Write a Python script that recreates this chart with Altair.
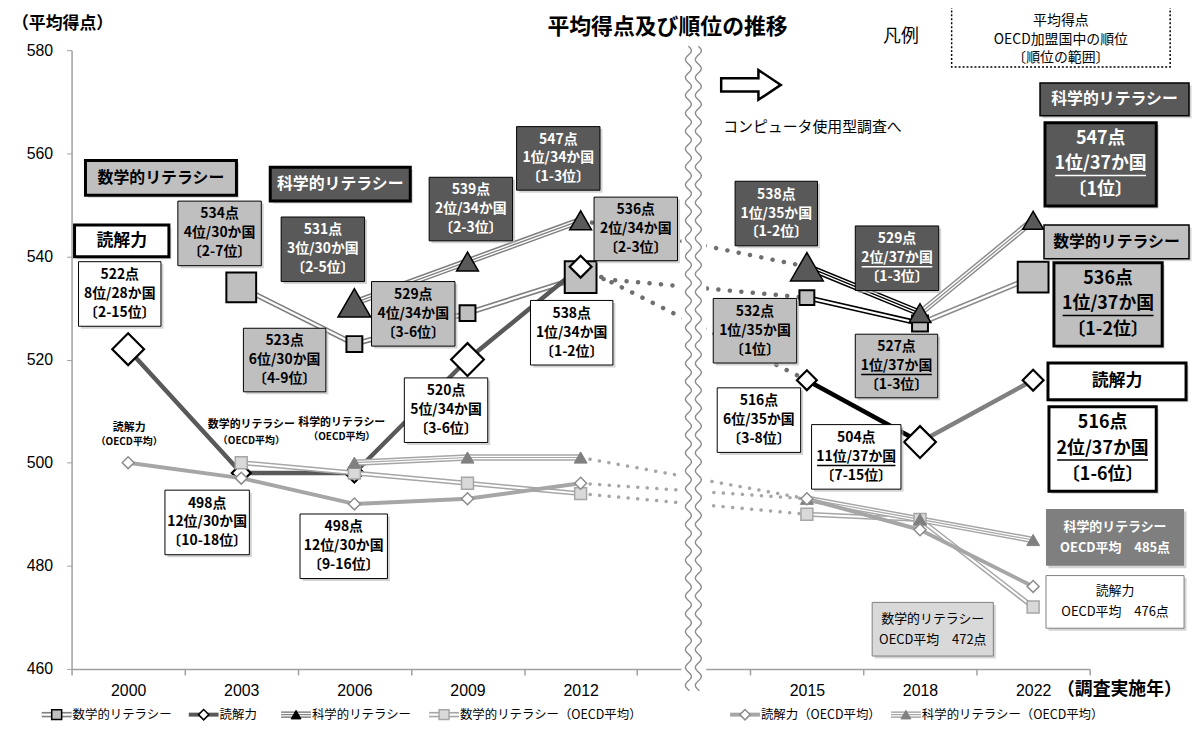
import altair as alt
import numpy as np
import pandas as pd

# ---------------- data ----------------
years = ["2000", "2003", "2006", "2009", "2012", "2015", "2018", "2022"]
gap = " "
x_domain = years[:5] + [gap] + years[5:]

math_jp = [None, 534, 523, 529, 536, 532, 527, 536]
read_jp = [522, 498, 498, 520, 538, 516, 504, 516]
sci_jp = [None, None, 531, 539, 547, 538, 529, 547]
math_oecd = [None, 500, 498, 496, 494, 490, 489, 472]
read_oecd = [500, 497, 492, 493, 496, 493, 487, 476]
sci_oecd = [None, None, 500, 501, 501, 493, 489, 485]

math_rank = [None, "4位/30か国", "6位/30か国", "4位/34か国", "2位/34か国", "1位/35か国", "1位/37か国", "1位/37か国"]
math_range = [None, "〔2-7位〕", "〔4-9位〕", "〔3-6位〕", "〔2-3位〕", "〔1位〕", "〔1-3位〕", "〔1-2位〕"]
read_rank = ["8位/28か国", "12位/30か国", "12位/30か国", "5位/34か国", "1位/34か国", "6位/35か国", "11位/37か国", "2位/37か国"]
read_range = ["〔2-15位〕", "〔10-18位〕", "〔9-16位〕", "〔3-6位〕", "〔1-2位〕", "〔3-8位〕", "〔7-15位〕", "〔1-6位〕"]
sci_rank = [None, None, "3位/30か国", "2位/34か国", "1位/34か国", "1位/35か国", "2位/37か国", "1位/37か国"]
sci_range = [None, None, "〔2-5位〕", "〔2-3位〕", "〔1-3位〕", "〔1-2位〕", "〔1-3位〕", "〔1位〕"]

name_math = "数学的リテラシー"
name_read = "読解力"
name_sci = "科学的リテラシー"
oecd_tag = "（OECD平均）"
title_text = "平均得点及び順位の推移"
y_title = "（平均得点）"
x_title = "（調査実施年）"
legend_title = "凡例"
legend_lines = ["平均得点", "OECD加盟国中の順位", "〔順位の範囲〕"]
cbt_note = "コンピュータ使用型調査へ"

# ---------------- styles / layout ----------------
W, H = 1025, 623
LEFT, TOP = 72, 48
LIGHT, DARK = "#bfbfbf", "#595959"
JFONT = "Noto Sans CJK JP"

math_mw = [0, 30, 16, 16, 32, 15, 16, 31]
read_mw = [32, 19, 19, 33, 22, 20, 32, 21]
sci_mw = [0, 0, 33, 22, 22, 33, 22, 21]

xs = alt.Scale(type="band", domain=x_domain, paddingInner=0, paddingOuter=0)
ys = alt.Scale(domain=[460, 580], nice=False, zero=False)
xenc = alt.X("year:O", scale=xs, title=None,
             axis=alt.Axis(labelAngle=0, labelFontSize=16, labelFont="Liberation Sans", labelColor="#000",
                           domainColor="#a0a0a0", tickColor="#a0a0a0", domainWidth=1.5, tickWidth=1.5,
                           tickSize=6, tickBand="extent", labelPadding=8, grid=False))
yenc = alt.Y("value:Q", scale=ys, title=None,
             axis=alt.Axis(values=[460, 480, 500, 520, 540, 560, 580], labelFontSize=16,
                           labelFont="Liberation Sans", labelColor="#000", domainColor="#a0a0a0",
                           tickColor="#a0a0a0", domainWidth=1.5, tickSize=5, labelPadding=14, grid=False))

SEGS = {"a": [0, 1, 2, 3, 4], "b": [5, 6], "c": [6, 7]}


def line_df(vals, colors, segs=SEGS):
    rows = []
    for seg, idxs in segs.items():
        for i in idxs:
            if vals[i] is not None:
                rows.append(dict(year=years[i], value=vals[i], seg=seg, col=colors[seg], i=i))
    return pd.DataFrame(rows)


def line_layer(df, width, color=None):
    enc = dict(x=xenc, y=yenc, detail="seg:N", order="i:Q")
    enc["color"] = alt.Color("col:N", scale=None) if color is None else alt.value(color)
    return alt.Chart(df).mark_line(strokeWidth=width, strokeJoin="round").encode(**enc)


def marker_layer(vals, widths, shape, fill, stroke, sw):
    rows = [dict(year=years[i], value=v, size=(widths[i] if isinstance(widths, list) else widths) ** 2)
            for i, v in enumerate(vals) if v is not None]
    return alt.Chart(pd.DataFrame(rows)).mark_point(shape=shape, filled=True, opacity=1).encode(
        x=xenc, y=yenc, size=alt.Size("size:Q", scale=None),
        fill=alt.value(fill), stroke=alt.value(stroke), strokeWidth=alt.value(sw))


def dotted_df(series):
    rows = []
    for k, vals in enumerate(series):
        for i in (4, 5):
            rows.append(dict(year=years[i], value=vals[i], seg=str(k), i=i))
    return pd.DataFrame(rows)


layers = []

# Japan lines
jc_read = {"a": "#595959", "b": "#000000", "c": "#808080"}
jc_ms = {"a": "#7f7f7f", "b": "#000000", "c": "#8c8c8c"}
dm = line_df(math_jp, jc_ms)
ds = line_df(sci_jp, jc_ms)
dr = line_df(read_jp, jc_read)
layers += [line_layer(dm, 5.5), line_layer(dm, 2.2, "#ffffff"),
           line_layer(ds, 7), line_layer(ds, 4, "#ffffff"), line_layer(ds, 1.3),
           line_layer(dr, 4.5)]

# dotted connectors across the break
layers.append(alt.Chart(dotted_df([math_jp, read_jp, sci_jp])).mark_line(
    strokeWidth=4.5, strokeCap="round", strokeDash=[0.1, 11.5], color="#6f6f6f").encode(
    x=xenc, y=yenc, detail="seg:N", order="i:Q"))
layers.append(alt.Chart(dotted_df([math_oecd, read_oecd, sci_oecd])).mark_line(
    strokeWidth=3.5, strokeCap="round", strokeDash=[0.1, 9.5], color="#a6a6a6").encode(
    x=xenc, y=yenc, detail="seg:N", order="i:Q"))

# Japan markers
layers += [marker_layer(math_jp, math_mw, "square", LIGHT, "#000000", 2),
           marker_layer(sci_jp, sci_mw, "triangle-up", DARK, "#000000", 1.5),
           marker_layer(read_jp, read_mw, "diamond", "#ffffff", "#000000", 2.2)]

# OECD lines + markers
OSEGS = {"a": [0, 1, 2, 3, 4], "b": [5, 6, 7]}
oc = {"a": "#a6a6a6", "b": "#a6a6a6"}
om = line_df(math_oecd, oc, OSEGS)
os_ = line_df(sci_oecd, oc, OSEGS)
orr = line_df(read_oecd, oc, OSEGS)
layers += [line_layer(om, 5), line_layer(om, 2, "#ffffff"),
           line_layer(os_, 6.5), line_layer(os_, 3.6, "#ffffff"), line_layer(os_, 1.2),
           line_layer(orr, 4)]
layers += [marker_layer(math_oecd, 12, "square", "#d9d9d9", "#a6a6a6", 1.5),
           marker_layer(sci_oecd, 13, "triangle-up", "#808080", "#808080", 1),
           marker_layer(read_oecd, 12, "diamond", "#ffffff", "#8c8c8c", 1.5)]

# ---------------- break ----------------
brk = pd.DataFrame([dict(x0=686 - LEFT, x1=711 - LEFT, y0=44 - TOP, y1=694 - TOP)])
layers.append(alt.Chart(brk).mark_rect(color="#ffffff").encode(
    x=alt.X("x0:Q", scale=None, axis=None), x2="x1:Q",
    y=alt.Y("y0:Q", scale=None, axis=None), y2="y1:Q"))
wave_rows = []
for k, bx in enumerate([693, 703]):
    for j, yy in enumerate(np.arange(44, 694, 1.0)):
        wave_rows.append(dict(x=bx + 3 * np.sin(2 * np.pi * (yy - 44) / 18) - LEFT, y=yy - TOP, w=k, j=j))
layers.append(alt.Chart(pd.DataFrame(wave_rows)).mark_line(color="#8c8c8c", strokeWidth=1.4).encode(
    x=alt.X("x:Q", scale=None, axis=None), y=alt.Y("y:Q", scale=None, axis=None),
    detail="w:N", order="j:Q"))

# ---------------- annotations ----------------
boxes, texts, rules, pts = [], [], [], []


def tw(s, size):
    w = 0
    for ch in s:
        if ord(ch) > 0x2000:
            w += 1.0
        elif ch.isdigit():
            w += 0.56
        elif ch == "/":
            w += 0.4
        else:
            w += 0.6
    return w * size


def add_box(x0, y0, x1, y1, fill, stroke="#000000", sw=1.0, shadow=True):
    boxes.append(dict(x0=x0 - LEFT, y0=y0 - TOP, x1=x1 - LEFT, y1=y1 - TOP, fill=fill, stroke=stroke,
                      sw=sw, shadow=shadow))


def add_text(x, y, s, size, color="#000000", bold=True, align="center", underline=False):
    texts.append(dict(x=x - LEFT, y=y - TOP, t=s, size=size, color=color,
                      wt="bold" if bold else "normal", al=align))
    if underline:
        w = tw(s, size)
        rules.append(dict(x0=x - w / 2 - LEFT, x1=x + w / 2 - LEFT, y0=y + size * 0.62 - TOP,
                          y1=y + size * 0.62 - TOP, color=color, sw=1.5))


def label_box(box, lines, fill, tcolor, size, spacing, sw=1.0, underline_mid=False, bold=True, stroke="#000000"):
    x0, y0, x1, y1 = box
    add_box(x0, y0, x1, y1, fill, stroke, sw)
    cx, cy = (x0 + x1) / 2, (y0 + y1) / 2
    n = len(lines)
    for k, s in enumerate(lines):
        add_text(cx, cy + (k - (n - 1) / 2) * spacing, s, size, tcolor, bold,
                 underline=(underline_mid and k == 1))


series = {
    "math": (math_jp, math_rank, math_range, LIGHT, "#000000"),
    "read": (read_jp, read_rank, read_range, "#ffffff", "#000000"),
    "sci": (sci_jp, sci_rank, sci_range, DARK, "#ffffff"),
}
small_boxes = {
    ("read", "2000"): (79, 261, 162, 326),
    ("math", "2003"): (179, 200, 263, 265),
    ("sci", "2006"): (283, 216, 367, 281),
    ("math", "2006"): (245, 328, 328, 392),
    ("math", "2009"): (374, 281, 458, 346),
    ("sci", "2009"): (432, 176, 516, 240),
    ("sci", "2012"): (520, 125, 604, 189),
    ("math", "2012"): (598, 196, 682, 260),
    ("read", "2012"): (534, 300, 617, 365),
    ("read", "2009"): (407, 378, 491, 443),
    ("read", "2003"): (166, 491, 251, 556),
    ("read", "2006"): (302, 515, 390, 580),
    ("sci", "2015"): (740, 180, 823, 245),
    ("math", "2015"): (718, 298, 802, 363),
    ("read", "2015"): (722, 388, 806, 453),
    ("sci", "2018"): (861, 225, 945, 290),
    ("math", "2018"): (861, 334, 944, 398),
    ("read", "2018"): (817, 425, 907, 490),
}
big_boxes = {
    ("sci", "2022"): (1052, 121, 1164, 205),
    ("math", "2022"): (1061, 262, 1170, 346),
    ("read", "2022"): (1056, 407, 1164, 492),
}
for (s, yr), box in small_boxes.items():
    vals, rk, rg, fill, tc = series[s]
    i = years.index(yr)
    label_box(box, [f"{vals[i]}点", rk[i], rg[i]], fill, tc, 14, 19, 1.0, underline_mid=(yr == "2018"))
for (s, yr), box in big_boxes.items():
    vals, rk, rg, fill, tc = series[s]
    i = years.index(yr)
    label_box(box, [f"{vals[i]}点", rk[i], rg[i]], fill, tc, 18, 26, 3.0, underline_mid=True)

# series name boxes
label_box((86, 159, 238, 194), [name_math], LIGHT, "#000000", 16, 0, 3)
label_box((272, 166, 413, 200), [name_sci], DARK, "#ffffff", 16, 0, 3)
label_box((75, 224, 170, 256), [name_read], "#ffffff", "#000000", 17, 0, 3)
label_box((1047, 81, 1197, 114), [name_sci], DARK, "#ffffff", 16, 0, 1.5)
label_box((1051, 224, 1197, 258), [name_math], LIGHT, "#000000", 16, 0, 1.5)
label_box((1055, 363, 1194, 400), [name_read], "#ffffff", "#000000", 17, 0, 3)

# OECD end labels
label_box((1053, 510, 1192, 567), [name_sci, f"OECD平均　{sci_oecd[-1]}点"], "#7f7f7f", "#ffffff", 13, 21, 0,
          stroke="#7f7f7f")
label_box((1053, 577, 1192, 630), [name_read, f"OECD平均　{read_oecd[-1]}点"], "#ffffff", "#000000", 13, 21, 1,
          bold=False, stroke="#7f7f7f")
label_box((878, 604, 1000, 658), [name_math, f"OECD平均　{math_oecd[-1]}点"], "#d9d9d9", "#000000", 13, 21, 1,
          bold=False, stroke="#7f7f7f")

# OECD small labels
for (cx, y1, y2, nm) in [(130, 428, 443, name_read), (253, 425, 442, name_math), (344, 423, 438, name_sci)]:
    add_text(cx, y1, nm, 11)
    add_text(cx, y2, oecd_tag, 10)

# header texts
add_text(12, 22, y_title, 17, align="left")
add_text(672, 25, title_text, 22)
add_text(907, 35, legend_title, 18, bold=False)
for k, s in enumerate(legend_lines):
    add_text(1068, 19 + 18.5 * k, s, 14, bold=False)
add_text(728, 125, cbt_note, 15, bold=False, align="left")
add_text(1064, 692, x_title, 18, align="left")

# arrow
ARROW = "M-1,-0.22L0.25,-0.22L0.25,-0.5L1,0L0.25,0.5L0.25,0.22L-1,0.22Z"
pts.append(dict(x=756 - LEFT, y=83 - TOP, shape=ARROW, size=60 ** 2, fill="#ffffff", stroke="#000000", sw=2.5))

# bottom legend
LY = 717
leg_items = [
    (42, name_math, "math", False), (190, name_read, "read", False), (283, name_sci, "sci", False),
    (432, name_math + oecd_tag, "math", True), (735, name_read + oecd_tag, "read", True),
    (897, name_sci + oecd_tag, "sci", True),
]
for (lx, label, kind, oecd) in leg_items:
    col = "#a6a6a6" if oecd else ("#595959" if kind == "read" else "#7f7f7f")
    x0, x1 = lx - LEFT, lx + 30 - LEFT
    yy = LY - TOP
    if kind == "read":
        rules.append(dict(x0=x0, x1=x1, y0=yy, y1=yy, color=col, sw=4))
    elif kind == "math":
        rules.append(dict(x0=x0, x1=x1, y0=yy, y1=yy, color=col, sw=5.5))
        rules.append(dict(x0=x0, x1=x1, y0=yy, y1=yy, color="#ffffff", sw=2.2))
    else:
        rules.append(dict(x0=x0, x1=x1, y0=yy, y1=yy, color=col, sw=6.5))
        rules.append(dict(x0=x0, x1=x1, y0=yy, y1=yy, color="#ffffff", sw=3.6))
        rules.append(dict(x0=x0, x1=x1, y0=yy, y1=yy, color=col, sw=1.2))
    if kind == "math":
        pts.append(dict(x=x0 + 15, y=yy, shape="square", size=100,
                        fill="#d9d9d9" if oecd else LIGHT, stroke="#a6a6a6" if oecd else "#000000", sw=1.5))
    elif kind == "read":
        pts.append(dict(x=x0 + 15, y=yy, shape="diamond", size=110, fill="#ffffff",
                        stroke="#8c8c8c" if oecd else "#000000", sw=1.5))
    else:
        pts.append(dict(x=x0 + 15, y=yy, shape="triangle-up", size=100,
                        fill="#808080" if oecd else "#000000", stroke="#808080" if oecd else "#000000", sw=1))
    add_text(lx + 31, LY, label, 12.5, bold=False, align="left")

bdf = pd.DataFrame(boxes)
sdf = bdf[bdf["shadow"]].copy()
sdf["x0"] += 2.5
sdf["x1"] += 2.5
sdf["y0"] += 2.5
sdf["y1"] += 2.5
layers.append(alt.Chart(sdf).mark_rect(color="#b8b8b8", opacity=0.6).encode(
    x=alt.X("x0:Q", scale=None, axis=None), x2="x1:Q",
    y=alt.Y("y0:Q", scale=None, axis=None), y2="y1:Q"))
layers.append(alt.Chart(bdf).mark_rect().encode(
    x=alt.X("x0:Q", scale=None, axis=None), x2="x1:Q",
    y=alt.Y("y0:Q", scale=None, axis=None), y2="y1:Q",
    fill=alt.Fill("fill:N", scale=None), stroke=alt.Stroke("stroke:N", scale=None),
    strokeWidth=alt.StrokeWidth("sw:Q", scale=None)))

# dotted legend box
layers.append(alt.Chart(pd.DataFrame([dict(x0=958 - LEFT, x1=1178 - LEFT, y0=-20 - TOP, y1=65 - TOP)])).mark_rect(
    fill="#ffffff", stroke="#000000", strokeWidth=1.5, strokeDash=[2, 2]).encode(
    x=alt.X("x0:Q", scale=None, axis=None), x2="x1:Q",
    y=alt.Y("y0:Q", scale=None, axis=None), y2="y1:Q"))

layers.append(alt.Chart(pd.DataFrame(rules)).mark_rule().encode(
    x=alt.X("x0:Q", scale=None, axis=None), x2="x1:Q",
    y=alt.Y("y0:Q", scale=None, axis=None), y2="y1:Q",
    color=alt.Color("color:N", scale=None), strokeWidth=alt.StrokeWidth("sw:Q", scale=None)))

layers.append(alt.Chart(pd.DataFrame(pts)).mark_point(filled=True, opacity=1).encode(
    x=alt.X("x:Q", scale=None, axis=None), y=alt.Y("y:Q", scale=None, axis=None),
    shape=alt.Shape("shape:N", scale=None), size=alt.Size("size:Q", scale=None),
    fill=alt.Fill("fill:N", scale=None), stroke=alt.Stroke("stroke:N", scale=None),
    strokeWidth=alt.StrokeWidth("sw:Q", scale=None)))

tdf = pd.DataFrame(texts)
for wt in ["bold", "normal"]:
    for al in ["center", "left"]:
        sub = tdf[(tdf["wt"] == wt) & (tdf["al"] == al)]
        if len(sub) == 0:
            continue
        layers.append(alt.Chart(sub).mark_text(font=JFONT, fontWeight=wt, align=al, baseline="middle").encode(
            x=alt.X("x:Q", scale=None, axis=None), y=alt.Y("y:Q", scale=None, axis=None),
            text="t:N", size=alt.Size("size:Q", scale=None), color=alt.Color("color:N", scale=None)))

chart = alt.layer(*layers).properties(
    width=W, height=H,
    padding={"left": 64, "top": 40, "right": 103, "bottom": 52},
    autosize=alt.AutoSizeParams(type="none"),
    background="#ffffff",
).configure_view(stroke=None)

chart.save("out.html", embed_options={"renderer": "svg", "actions": False})
